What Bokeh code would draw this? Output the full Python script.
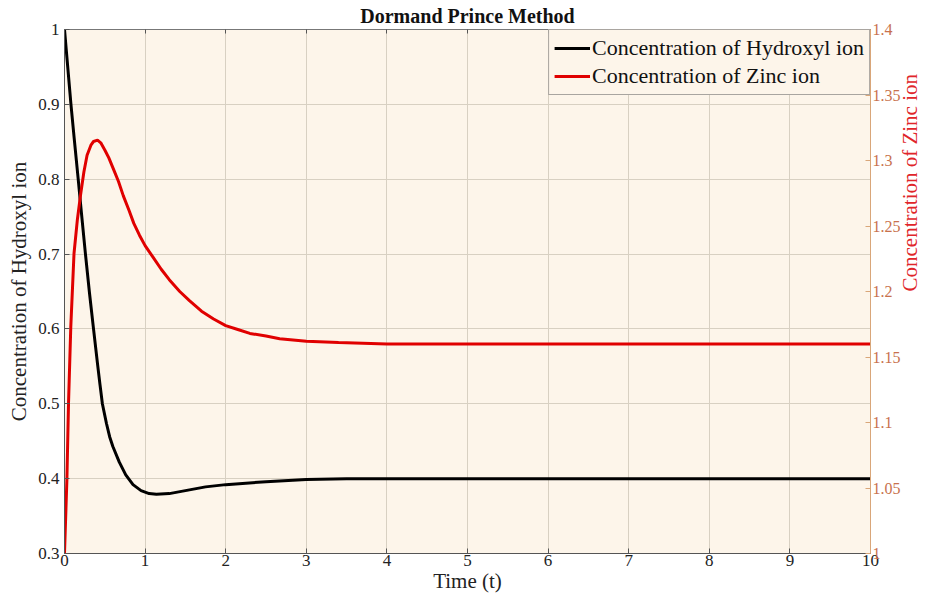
import math
from bokeh.plotting import figure
from bokeh.models import (Range1d, LinearAxis, FixedTicker, CustomJSTickFormatter, Legend,
                          LegendItem)
from bokeh.embed import file_html
from bokeh.resources import INLINE

# ---- data ----
t_hydroxyl = [0, 0.04, 0.08, 0.12, 0.17, 0.21, 0.26, 0.31, 0.36, 0.41, 0.44, 0.47, 0.52,
              0.56, 0.6, 0.68, 0.76, 0.85, 0.95, 1.05, 1.14, 1.3, 1.5, 1.75, 2.0, 2.5,
              3.0, 3.5, 4.0, 10.0]
hydroxyl = [1.0, 0.95, 0.9, 0.855, 0.8, 0.755, 0.7, 0.648, 0.6, 0.553, 0.526, 0.5, 0.474,
            0.456, 0.443, 0.422, 0.405, 0.392, 0.384, 0.38, 0.379, 0.38, 0.384, 0.389,
            0.392, 0.396, 0.399, 0.4, 0.4, 0.4]

t_zinc = [0, 0.03, 0.05, 0.078, 0.118, 0.16, 0.2, 0.24, 0.28, 0.33, 0.36, 0.41, 0.45, 0.5,
          0.55, 0.61, 0.67, 0.73, 0.8, 0.86, 0.93, 1.0, 1.1, 1.2, 1.3, 1.43, 1.55, 1.7,
          1.85, 2.0, 2.15, 2.3, 2.5, 2.67, 3.0, 3.4, 4.0, 10.0]
zinc = [1.0, 1.057, 1.115, 1.173, 1.229, 1.255, 1.274, 1.291, 1.304, 1.312, 1.3145,
        1.3155, 1.3135, 1.308, 1.302, 1.293, 1.284, 1.273, 1.262, 1.252, 1.243, 1.235,
        1.226, 1.217, 1.209, 1.2, 1.193, 1.185, 1.179, 1.174, 1.171, 1.168, 1.166,
        1.164, 1.162, 1.161, 1.16, 1.16]

x_ticks = [0, 1, 2, 3, 4, 5, 6, 7, 8, 9, 10]
left_ticks = [0.3, 0.4, 0.5, 0.6, 0.7, 0.8, 0.9, 1.0]
right_ticks = [1.0, 1.05, 1.1, 1.15, 1.2, 1.25, 1.3, 1.35, 1.4]

FONT = "Liberation Serif"
BG = "#fdf5ea"
GRID = "#d8d0c2"
ORANGE_AX = "#d9a679"
ORANGE_TXT = "#c8714d"
RED = "#e00000"
ZINC_LABEL = "Concentration of Zinc ion"

p = figure(width=936, height=595, output_backend="svg", toolbar_location=None,
           x_range=Range1d(0, 10), y_range=Range1d(0.3, 1.0),
           min_border_left=64, min_border_right=40, min_border_top=5, min_border_bottom=5,
           background_fill_color=BG, border_fill_color="white",
           title="Dormand Prince Method")
p.extra_y_ranges = {"zinc": Range1d(1.0, 1.4)}

p.title.align = "center"
p.title.text_font = FONT
p.title.text_font_size = "20px"
p.title.text_font_style = "bold"
p.title.text_color = "#111111"
p.title.offset = 0
p.title.standoff = 5

fmt = CustomJSTickFormatter(code="return tick.toFixed(2).replace(/\\.?0+$/, '');")

xa = p.xaxis[0]
xa.ticker = FixedTicker(ticks=x_ticks)
xa.axis_label = "Time (t)"
ya = p.yaxis[0]
ya.ticker = FixedTicker(ticks=left_ticks)
ya.formatter = fmt
ya.axis_label = "Concentration of Hydroxyl ion"

ra = LinearAxis(y_range_name="zinc", ticker=FixedTicker(ticks=right_ticks), formatter=fmt)
p.add_layout(ra, "right")

ta = LinearAxis(ticker=FixedTicker(ticks=x_ticks),
                formatter=CustomJSTickFormatter(code="return '';"))
p.add_layout(ta, "above")
ta.major_label_standoff = 0
ta.major_tick_in = 4
ta.major_tick_out = 0
ta.minor_tick_line_color = None
ta.axis_line_color = "#777777"
ta.major_tick_line_color = "#555555"

for ax in (xa, ya, ra):
    ax.major_label_text_font = FONT
    ax.major_label_text_font_size = "17px"
    ax.axis_label_text_font = FONT
    ax.axis_label_text_font_size = "21px"
    ax.axis_label_text_font_style = "normal"
    ax.major_tick_in = 5
    ax.major_tick_out = 0
    ax.minor_tick_line_color = None
    ax.major_label_standoff = 5
    ax.axis_label_standoff = 4

xa.major_label_standoff = 1
xa.axis_label_standoff = 0
ra.major_label_text_font_size = "16px"
ra.major_label_standoff = 2
ra.axis_label_standoff = 6

for ax in (xa, ya):
    ax.axis_line_color = "#555555"
    ax.major_tick_line_color = "#555555"
    ax.major_label_text_color = "#222222"
    ax.axis_label_text_color = "#222222"

ra.axis_line_color = ORANGE_AX
ra.major_tick_line_color = ORANGE_AX
ra.major_label_text_color = ORANGE_TXT
ra.axis_label_text_color = "#e0252a"

# right-axis title, reading bottom-to-top as in the reference
try:
    ra.axis_label_orientation = math.pi / 2
except Exception:
    pass
ra.axis_label = ZINC_LABEL

p.xgrid.ticker = FixedTicker(ticks=x_ticks)
p.ygrid.ticker = FixedTicker(ticks=left_ticks)
p.grid.grid_line_color = GRID
p.grid.grid_line_width = 1
p.outline_line_color = "#777777"

r1 = p.line(t_hydroxyl, hydroxyl, line_color="black", line_width=3)
r2 = p.line(t_zinc, zinc, line_color=RED, line_width=3, y_range_name="zinc")

legend = Legend(items=[LegendItem(label="Concentration of Hydroxyl ion", renderers=[r1]),
                       LegendItem(label="Concentration of Zinc ion", renderers=[r2])],
                location="top_right")
legend.label_text_font = FONT
legend.label_text_font_size = "22px"
legend.label_text_color = "#111111"
legend.glyph_width = 36
legend.glyph_height = 20
legend.label_height = 20
legend.label_standoff = 2
legend.spacing = 2
legend.padding = 5
legend.margin = 0
legend.border_line_color = "#555555"
legend.border_line_width = 1
legend.background_fill_color = BG
legend.background_fill_alpha = 1.0
p.add_layout(legend)

open("out.html", "w").write(file_html(p, INLINE))
